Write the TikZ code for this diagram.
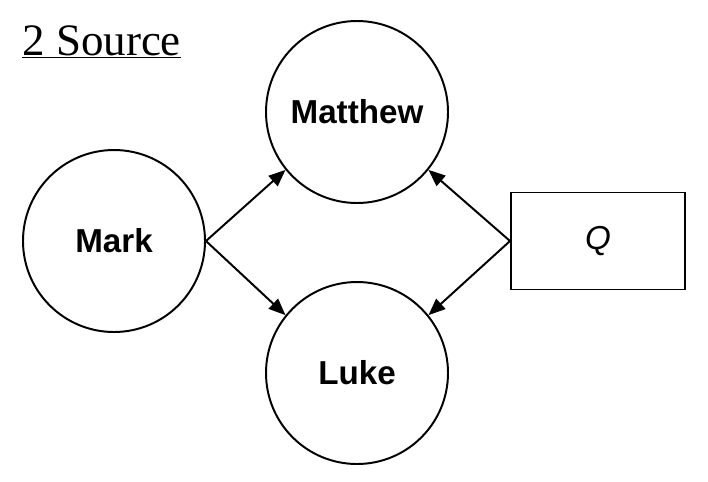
\documentclass[tikz,border=0pt]{standalone}
\usepackage{fontspec}
\setmainfont{Liberation Serif}
\setsansfont{Liberation Sans}
\usetikzlibrary{arrows.meta}
\begin{document}
\begin{tikzpicture}[
    gospel/.style={circle, draw, line width=1.4pt, minimum size=4.55cm, inner sep=0pt, font=\sffamily\bfseries\fontsize{23.6}{28}\selectfont},
    source/.style={rectangle, draw, line width=1.4pt, minimum width=4.35cm, minimum height=2.425cm, font=\sffamily\itshape\fontsize{23.6}{28}\selectfont},
    dep/.style={-{Triangle[length=0.42cm, width=0.34cm]}, line width=1.4pt}
]
    \useasboundingbox (0,0) rectangle (17.7,-12.025);

    % Title
    \node[anchor=west, font=\fontsize{32}{38}\selectfont, inner sep=0pt] (title) at (0.55,-1.05) {\underline{2 Source}};

    % Gospels
    \node[gospel] (matthew) at (8.925,-2.8) {Matthew};
    \node[gospel] (mark) at (2.85,-6.025) {Mark};
    \node[gospel] (luke) at (8.925,-9.325) {Luke};
    \node[source] (q) at (14.95,-6.025) {Q};

    % Dependencies
    \draw[dep] (mark.east) -- (matthew.219);
    \draw[dep] (mark.east) -- (luke.141);
    \draw[dep] (q.west) -- (matthew.-39);
    \draw[dep] (q.west) -- (luke.39);
\end{tikzpicture}
\end{document}
